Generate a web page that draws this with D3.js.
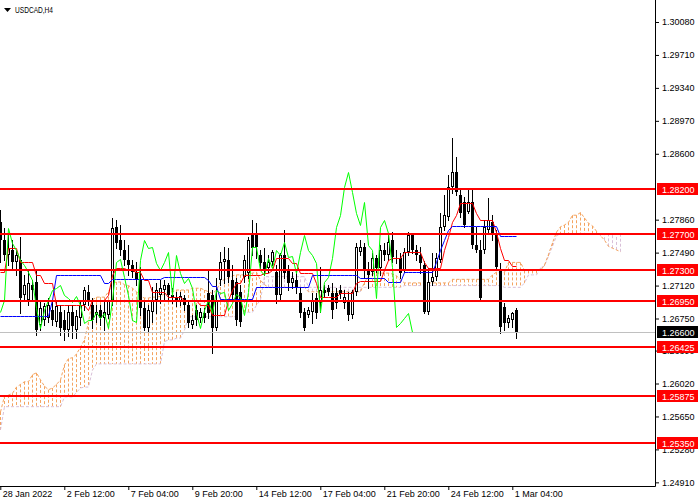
<!DOCTYPE html>
<html>
<head>
<meta charset="utf-8">
<script src="https://cdn.jsdelivr.net/npm/d3@7"></script>
<style>
	body { margin: 0; background: #ffffff; }
	svg { display: block; font-family: "Liberation Sans", Arial, sans-serif; }
</style>
</head>
<body>
<svg id="chartsvg" width="700" height="500"></svg>
<script>
//DATA (USDCAD H4, one value per bar, bar 0 = 28 Jan 2022 20:00)
var opens = [
	1.2783, 1.2763, 1.2746, 1.2752, 1.2738, 1.2741, 1.2701, 1.2696, 1.2713, 1.2716,
	1.2668, 1.2673, 1.2676, 1.2685, 1.2671, 1.2682, 1.2673, 1.2662, 1.2682, 1.2662,
	1.2676, 1.2690, 1.2705, 1.2690, 1.2679, 1.2685, 1.2676, 1.2679, 1.2696, 1.2778,
	1.2763, 1.2752, 1.2741, 1.2735, 1.2727, 1.2718, 1.2687, 1.2664, 1.2682, 1.2696,
	1.2701, 1.2707, 1.2713, 1.2701, 1.2698, 1.2694, 1.2698, 1.2690, 1.2668, 1.2685,
	1.2676, 1.2681, 1.2704, 1.2701, 1.2664, 1.2718, 1.2738, 1.2741, 1.2718, 1.2716,
	1.2705, 1.2722, 1.2726, 1.2769, 1.2771, 1.2746, 1.2738, 1.2732, 1.2738, 1.2727,
	1.2701, 1.2746, 1.2729, 1.2715, 1.2718, 1.2704, 1.2682, 1.2679, 1.2682, 1.2698,
	1.2692, 1.2707, 1.2709, 1.2704, 1.2704, 1.2707, 1.2692, 1.2696, 1.2679, 1.2705,
	1.2750, 1.2755, 1.2729, 1.2727, 1.2743, 1.2732, 1.2752, 1.2746, 1.2763, 1.2744,
	1.2743, 1.2729, 1.2750, 1.2769, 1.2752, 1.2746, 1.2735, 1.2682, 1.2716, 1.2722,
	1.2741, 1.2778, 1.2789, 1.2823, 1.2840, 1.2814, 1.2806, 1.2795, 1.2806, 1.2758,
	1.2752, 1.2752, 1.2774, 1.2783, 1.2771, 1.2729, 1.2688, 1.2670, 1.2673, 1.2685
];
var highs = [
	1.2797, 1.2777, 1.2769, 1.2763, 1.2752, 1.2767, 1.2724, 1.2729, 1.2718, 1.2729,
	1.2696, 1.2692, 1.2698, 1.2694, 1.2696, 1.2690, 1.2685, 1.2690, 1.2690, 1.2685,
	1.2696, 1.2710, 1.2713, 1.2698, 1.2690, 1.2690, 1.2696, 1.2696, 1.2788, 1.2786,
	1.2780, 1.2763, 1.2758, 1.2741, 1.2738, 1.2733, 1.2696, 1.2690, 1.2710, 1.2715,
	1.2718, 1.2718, 1.2715, 1.2709, 1.2705, 1.2705, 1.2701, 1.2696, 1.2679, 1.2690,
	1.2687, 1.2687, 1.2729, 1.2707, 1.2720, 1.2750, 1.2755, 1.2754, 1.2735, 1.2720,
	1.2713, 1.2746, 1.2767, 1.2786, 1.2782, 1.2752, 1.2754, 1.2746, 1.2752, 1.2735,
	1.2749, 1.2774, 1.2735, 1.2727, 1.2729, 1.2710, 1.2687, 1.2688, 1.2704, 1.2704,
	1.2733, 1.2713, 1.2713, 1.2715, 1.2709, 1.2713, 1.2707, 1.2705, 1.2707, 1.2760,
	1.2763, 1.2760, 1.2738, 1.2749, 1.2746, 1.2758, 1.2760, 1.2769, 1.2772, 1.2752,
	1.2749, 1.2754, 1.2772, 1.2771, 1.2758, 1.2755, 1.2740, 1.2732, 1.2749, 1.2749,
	1.2794, 1.2814, 1.2836, 1.2878, 1.2856, 1.2822, 1.2811, 1.2819, 1.2819, 1.2778,
	1.2763, 1.2786, 1.2810, 1.2791, 1.2774, 1.2737, 1.2692, 1.2679, 1.2682, 1.2687
];
var lows = [
	1.2738, 1.2741, 1.2735, 1.2729, 1.2724, 1.2681, 1.2696, 1.2690, 1.2696, 1.2657,
	1.2662, 1.2668, 1.2671, 1.2668, 1.2667, 1.2657, 1.2651, 1.2655, 1.2653, 1.2653,
	1.2668, 1.2685, 1.2690, 1.2664, 1.2671, 1.2668, 1.2662, 1.2676, 1.2690, 1.2754,
	1.2746, 1.2735, 1.2724, 1.2722, 1.2713, 1.2679, 1.2662, 1.2660, 1.2671, 1.2681,
	1.2692, 1.2696, 1.2696, 1.2692, 1.2689, 1.2690, 1.2685, 1.2666, 1.2664, 1.2668,
	1.2671, 1.2671, 1.2676, 1.2636, 1.2662, 1.2713, 1.2715, 1.2716, 1.2696, 1.2668,
	1.2667, 1.2716, 1.2720, 1.2746, 1.2743, 1.2732, 1.2724, 1.2727, 1.2735, 1.2692,
	1.2696, 1.2720, 1.2707, 1.2709, 1.2704, 1.2677, 1.2662, 1.2677, 1.2670, 1.2676,
	1.2682, 1.2699, 1.2701, 1.2676, 1.2687, 1.2698, 1.2687, 1.2673, 1.2676, 1.2701,
	1.2746, 1.2720, 1.2709, 1.2724, 1.2727, 1.2724, 1.2741, 1.2741, 1.2738, 1.2737,
	1.2720, 1.2727, 1.2746, 1.2749, 1.2741, 1.2726, 1.2681, 1.2680, 1.2713, 1.2718,
	1.2738, 1.2774, 1.2786, 1.2816, 1.2814, 1.2789, 1.2778, 1.2794, 1.2754, 1.2750,
	1.2696, 1.2749, 1.2772, 1.2763, 1.2729, 1.2659, 1.2662, 1.2666, 1.2666, 1.2653
];
var closes = [
	1.2763, 1.2746, 1.2754, 1.2738, 1.2746, 1.2698, 1.2713, 1.2715, 1.2707, 1.2662,
	1.2687, 1.2689, 1.2690, 1.2673, 1.2689, 1.2664, 1.2662, 1.2682, 1.2667, 1.2678,
	1.2690, 1.2707, 1.2696, 1.2673, 1.2682, 1.2676, 1.2682, 1.2696, 1.2777, 1.2760,
	1.2752, 1.2741, 1.2735, 1.2727, 1.2718, 1.2687, 1.2664, 1.2685, 1.2696, 1.2707,
	1.2709, 1.2713, 1.2701, 1.2698, 1.2694, 1.2700, 1.2690, 1.2670, 1.2673, 1.2673,
	1.2682, 1.2676, 1.2681, 1.2664, 1.2696, 1.2738, 1.2742, 1.2722, 1.2701, 1.2673,
	1.2671, 1.2741, 1.2763, 1.2754, 1.2755, 1.2737, 1.2729, 1.2738, 1.2750, 1.2701,
	1.2746, 1.2726, 1.2715, 1.2720, 1.2709, 1.2681, 1.2664, 1.2685, 1.2696, 1.2681,
	1.2707, 1.2704, 1.2705, 1.2685, 1.2692, 1.2703, 1.2699, 1.2679, 1.2705, 1.2755,
	1.2755, 1.2729, 1.2724, 1.2743, 1.2732, 1.2752, 1.2746, 1.2761, 1.2744, 1.2745,
	1.2726, 1.2750, 1.2769, 1.2752, 1.2746, 1.2737, 1.2682, 1.2716, 1.2722, 1.2743,
	1.2778, 1.2791, 1.2823, 1.2840, 1.2817, 1.2794, 1.2780, 1.2806, 1.2758, 1.2752,
	1.2698, 1.2778, 1.2786, 1.2771, 1.2733, 1.2666, 1.2670, 1.2676, 1.2681, 1.2660
];
//ICHIMOKU LINES
var tenkan = [
	1.2727, 1.2727, 1.2754, 1.2754, 1.2754, 1.2738, 1.2738, 1.2738, 1.2738, 1.2724,
	1.2724, 1.2715, 1.2715, 1.2715, 1.2690, 1.2690, 1.2690, 1.2690, 1.2690, 1.2690,
	1.2690, 1.2690, 1.2685, 1.2696, 1.2696, 1.2696, 1.2696, 1.2701, 1.2724, 1.2732,
	1.2732, 1.2732, 1.2729, 1.2729, 1.2727, 1.2727, 1.2718, 1.2718, 1.2705, 1.2705,
	1.2705, 1.2705, 1.2699, 1.2699, 1.2699, 1.2699, 1.2696, 1.2696, 1.2696, 1.2696,
	1.2690, 1.2690, 1.2690, 1.2679, 1.2679, 1.2679, 1.2679, 1.2696, 1.2707, 1.2715,
	1.2715, 1.2724, 1.2724, 1.2724, 1.2724, 1.2724, 1.2726, 1.2726, 1.2729, 1.2743,
	1.2743, 1.2743, 1.2743, 1.2737, 1.2737, 1.2726, 1.2726, 1.2726, 1.2726, 1.2715,
	1.2699, 1.2699, 1.2699, 1.2699, 1.2699, 1.2704, 1.2704, 1.2704, 1.2704, 1.2715,
	1.2717, 1.2717, 1.2717, 1.2717, 1.2717, 1.2717, 1.2729, 1.2741, 1.2743, 1.2743,
	1.2743, 1.2750, 1.2750, 1.2750, 1.2750, 1.2750, 1.2738, 1.2732, 1.2732, 1.2732,
	1.2732, 1.2752, 1.2767, 1.2783, 1.2791, 1.2805, 1.2805, 1.2805, 1.2805, 1.2794,
	1.2786, 1.2786, 1.2786, 1.2786, 1.2772, 1.2754, 1.2741, 1.2741, 1.2734, 1.2734
];
var kijun = [
	1.2678, 1.2678, 1.2678, 1.2678, 1.2678, 1.2678, 1.2678, 1.2678, 1.2678, 1.2678,
	1.2678, 1.2678, 1.2678, 1.2696, 1.2724, 1.2724, 1.2724, 1.2724, 1.2724, 1.2724,
	1.2724, 1.2724, 1.2724, 1.2724, 1.2724, 1.2724, 1.2715, 1.2715, 1.2719, 1.2719,
	1.2719, 1.2719, 1.2719, 1.2719, 1.2719, 1.2719, 1.2719, 1.2719, 1.2719, 1.2719,
	1.2719, 1.2722, 1.2722, 1.2722, 1.2722, 1.2722, 1.2722, 1.2722, 1.2722, 1.2722,
	1.2722, 1.2722, 1.2718, 1.2712, 1.2712, 1.2697, 1.2697, 1.2697, 1.2697, 1.2697,
	1.2697, 1.2697, 1.2697, 1.2697, 1.2710, 1.2710, 1.2710, 1.2710, 1.2710, 1.2710,
	1.2710, 1.2710, 1.2710, 1.2710, 1.2710, 1.2710, 1.2710, 1.2710, 1.2724, 1.2724,
	1.2724, 1.2724, 1.2724, 1.2724, 1.2724, 1.2724, 1.2724, 1.2724, 1.2724, 1.2724,
	1.2720, 1.2720, 1.2720, 1.2720, 1.2720, 1.2720, 1.2720, 1.2716, 1.2716, 1.2716,
	1.2716, 1.2727, 1.2727, 1.2727, 1.2727, 1.2727, 1.2727, 1.2727, 1.2727, 1.2738,
	1.2752, 1.2763, 1.2774, 1.2779, 1.2779, 1.2779, 1.2779, 1.2779, 1.2779, 1.2779,
	1.2779, 1.2779, 1.2779, 1.2779, 1.2779, 1.2768, 1.2768, 1.2768, 1.2768, 1.2768
];
//SENKOU SPANS, ALREADY SHIFTED 26 BARS FORWARD (156 BARS)
var spanA = [
	1.2570, 1.2588, 1.2589, 1.2591, 1.2598, 1.2601, 1.2604, 1.2604, 1.2612, 1.2614,
	1.2606, 1.2599, 1.2595, 1.2597, 1.2601, 1.2606, 1.2623, 1.2630, 1.2631, 1.2635,
	1.2643, 1.2651, 1.2671, 1.2696, 1.2699, 1.2699, 1.2699, 1.2705, 1.2715, 1.2716,
	1.2716, 1.2713, 1.2712, 1.2709, 1.2705, 1.2700, 1.2698, 1.2698, 1.2699, 1.2699,
	1.2700, 1.2703, 1.2705, 1.2705, 1.2707, 1.2707, 1.2707, 1.2707, 1.2709, 1.2709,
	1.2709, 1.2707, 1.2705, 1.2703, 1.2707, 1.2716, 1.2719, 1.2720, 1.2723, 1.2724,
	1.2724, 1.2724, 1.2725, 1.2726, 1.2727, 1.2718, 1.2713, 1.2710, 1.2710, 1.2710,
	1.2710, 1.2710, 1.2710, 1.2710, 1.2710, 1.2710, 1.2710, 1.2705, 1.2705, 1.2705,
	1.2705, 1.2705, 1.2705, 1.2705, 1.2705, 1.2705, 1.2705, 1.2705, 1.2705, 1.2705,
	1.2705, 1.2716, 1.2722, 1.2725, 1.2726, 1.2726, 1.2726, 1.2726, 1.2725, 1.2723,
	1.2718, 1.2715, 1.2715, 1.2715, 1.2715, 1.2715, 1.2715, 1.2715, 1.2715, 1.2715,
	1.2715, 1.2715, 1.2715, 1.2719, 1.2719, 1.2719, 1.2719, 1.2719, 1.2719, 1.2719,
	1.2719, 1.2719, 1.2719, 1.2724, 1.2727, 1.2727, 1.2727, 1.2738, 1.2738, 1.2738,
	1.2738, 1.2729, 1.2729, 1.2729, 1.2729, 1.2729, 1.2735, 1.2747, 1.2760, 1.2772,
	1.2778, 1.2780, 1.2783, 1.2791, 1.2791, 1.2794, 1.2788, 1.2782, 1.2779, 1.2773,
	1.2768, 1.2763, 1.2756, 1.2754, 1.2752, 1.2750
];
var spanB = [
	1.2550, 1.2576, 1.2576, 1.2576, 1.2576, 1.2576, 1.2576, 1.2576, 1.2576, 1.2576,
	1.2576, 1.2576, 1.2576, 1.2576, 1.2576, 1.2576, 1.2587, 1.2587, 1.2587, 1.2592,
	1.2597, 1.2598, 1.2598, 1.2617, 1.2624, 1.2624, 1.2624, 1.2624, 1.2624, 1.2624,
	1.2624, 1.2624, 1.2624, 1.2624, 1.2624, 1.2624, 1.2624, 1.2624, 1.2624, 1.2624,
	1.2624, 1.2649, 1.2651, 1.2651, 1.2653, 1.2653, 1.2662, 1.2677, 1.2677, 1.2677,
	1.2677, 1.2677, 1.2677, 1.2677, 1.2677, 1.2677, 1.2677, 1.2677, 1.2677, 1.2677,
	1.2677, 1.2682, 1.2682, 1.2682, 1.2690, 1.2696, 1.2722, 1.2722, 1.2722, 1.2722,
	1.2722, 1.2722, 1.2722, 1.2722, 1.2722, 1.2722, 1.2722, 1.2710, 1.2710, 1.2710,
	1.2710, 1.2710, 1.2710, 1.2710, 1.2710, 1.2710, 1.2710, 1.2710, 1.2710, 1.2710,
	1.2710, 1.2710, 1.2710, 1.2710, 1.2710, 1.2710, 1.2710, 1.2710, 1.2710, 1.2710,
	1.2710, 1.2712, 1.2712, 1.2712, 1.2712, 1.2712, 1.2712, 1.2712, 1.2712, 1.2712,
	1.2712, 1.2712, 1.2712, 1.2712, 1.2712, 1.2712, 1.2712, 1.2712, 1.2712, 1.2712,
	1.2712, 1.2712, 1.2712, 1.2712, 1.2712, 1.2712, 1.2710, 1.2710, 1.2710, 1.2710,
	1.2710, 1.2715, 1.2724, 1.2724, 1.2724, 1.2732, 1.2734, 1.2745, 1.2756, 1.2768,
	1.2770, 1.2770, 1.2770, 1.2770, 1.2770, 1.2770, 1.2770, 1.2770, 1.2770, 1.2770,
	1.2770, 1.2770, 1.2770, 1.2770, 1.2770, 1.2770
];
var levels = [1.28200, 1.27700, 1.27300, 1.26950, 1.26425, 1.25875, 1.25350];
var lastPrice = 1.26600;
var priceTicks = [1.30080, 1.29710, 1.29340, 1.28970, 1.28600, 1.27860, 1.27490,
	1.27120, 1.26750, 1.26390, 1.26020, 1.25650, 1.25280, 1.24910];
var timeLabels = ["28 Jan 2022", "2 Feb 12:00", "7 Feb 04:00", "9 Feb 20:00", "14 Feb 12:00",
	"17 Feb 04:00", "21 Feb 20:00", "24 Feb 12:00", "1 Mar 04:00"];
var timeBars = [0, 16, 32, 48, 64, 80, 96, 112, 128];
var chartTitle = "USDCAD,H4";
var chikouShift = 26;

(function () {
	//VARIABLE DECLARATION
	var svg, plot, x, y, plotW, plotH, bars;
	//VARIABLE INSTANTIATION
	plotW = 655;
	plotH = 486;
	svg = d3.select("#chartsvg");
	x = d3.scaleLinear().domain([0, 163]).range([0.3, 652.3]);
	y = d3.scaleLinear().domain([1.24869, 1.30327]).range([plotH, 0]);
	bars = d3.range(opens.length);

	svg.append("rect").attr("width", 700).attr("height", 500).attr("fill", "#ffffff");
	svg.append("clipPath").attr("id", "plotclip")
		.append("rect").attr("width", plotW).attr("height", plotH);
	plot = svg.append("g").attr("clip-path", "url(#plotclip)");

	drawCloud();
	drawCandles();
	drawLines();
	drawLevels();
	drawAxes();
	drawTitle();

	function px(i) { return Math.round(x(i)) + 0.5 }

	function drawCloud() {
		plot.append("g").selectAll("line")
			.data(spanA).enter().append("line")
			.attr("x1", function (d, i) { return px(i) })
			.attr("x2", function (d, i) { return px(i) })
			.attr("y1", function (d) { return y(d) })
			.attr("y2", function (d, i) { return y(spanB[i]) })
			.attr("stroke", function (d, i) { return d >= spanB[i] ? "#f4a460" : "#d8bfd8" })
			.attr("stroke-dasharray", "3,2");

		[[spanB, "#d8bfd8"], [spanA, "#f4a460"]].forEach(function (s) {
			plot.append("path")
				.datum(s[0])
				.attr("fill", "none")
				.attr("stroke", s[1])
				.attr("stroke-dasharray", "3,2")
				.attr("d", d3.line().x(function (d, i) { return px(i) }).y(function (d) { return y(d) }));
		});
	}
	function drawCandles() {
		var g = plot.append("g").attr("shape-rendering", "crispEdges");
		g.selectAll("line")
			.data(bars).enter().append("line")
			.attr("x1", px).attr("x2", px)
			.attr("y1", function (i) { return Math.round(y(highs[i])) })
			.attr("y2", function (i) { return Math.round(y(lows[i])) + 1 })
			.attr("stroke", "#000");

		g.selectAll("rect.bear")
			.data(bars.filter(function (i) { return closes[i] < opens[i] })).enter().append("rect")
			.attr("class", "bear")
			.attr("x", function (i) { return px(i) - 1.5 })
			.attr("width", 3)
			.attr("y", function (i) { return Math.round(y(opens[i])) })
			.attr("height", function (i) { return Math.max(1, Math.round(y(closes[i])) - Math.round(y(opens[i]))) })
			.attr("fill", "#000");

		g.selectAll("rect.bull")
			.data(bars.filter(function (i) { return closes[i] >= opens[i] })).enter().append("rect")
			.attr("class", "bull")
			.attr("x", function (i) { return px(i) - 1 })
			.attr("width", 2)
			.attr("y", function (i) { return Math.round(y(closes[i])) + 0.5 })
			.attr("height", function (i) { return Math.max(0, Math.round(y(opens[i])) - Math.round(y(closes[i])) - 1) })
			.attr("fill", "#fff")
			.attr("stroke", "#000");
	}
	function drawLines() {
		var chikou = closes.slice(chikouShift);
		[[tenkan, "#ff0000"], [kijun, "#0000ff"], [chikou, "#00ff00"]].forEach(function (s) {
			plot.append("path")
				.datum(s[0])
				.attr("fill", "none")
				.attr("stroke", s[1])
				.attr("stroke-width", 1)
				.attr("d", d3.line().x(function (d, i) { return px(i) }).y(function (d) { return Math.round(y(d)) + 0.5 }));
		});
	}
	function drawLevels() {
		plot.append("line")
			.attr("x1", 0).attr("x2", plotW)
			.attr("y1", Math.round(y(lastPrice)) + 0.5).attr("y2", Math.round(y(lastPrice)) + 0.5)
			.attr("stroke", "#c0c0c0");

		plot.selectAll("line.level")
			.data(levels).enter().append("line")
			.attr("class", "level")
			.attr("x1", 0).attr("x2", plotW)
			.attr("y1", function (d) { return Math.round(y(d)) })
			.attr("y2", function (d) { return Math.round(y(d)) })
			.attr("stroke", "#ff0000")
			.attr("stroke-width", 2);
	}
	function drawAxes() {
		var right = svg.append("g")
			.attr("transform", "translate(" + plotW + ",0)")
			.call(d3.axisRight(y).tickValues(priceTicks).tickFormat(d3.format(".5f")).tickSize(4).tickSizeOuter(0));
		right.select(".domain").remove();
		right.selectAll("text").attr("font-size", 9).attr("fill", "#000").attr("x", 7);
		right.selectAll("line").attr("stroke", "#000");

		var bottom = svg.append("g")
			.attr("transform", "translate(0," + plotH + ")")
			.call(d3.axisBottom(x).tickValues(timeBars).tickFormat(function (d, i) { return timeLabels[i] }).tickSize(4).tickSizeOuter(0));
		bottom.select(".domain").remove();
		bottom.selectAll("text").attr("font-size", 9).attr("fill", "#000")
			.attr("text-anchor", "start").attr("x", 2).attr("y", 5).attr("dy", "0.71em");
		bottom.selectAll("line").attr("stroke", "#000");

		svg.append("path")
			.attr("d", "M" + (plotW + 0.5) + ",0V" + (plotH + 0.5) + "H0")
			.attr("fill", "none").attr("stroke", "#000");

		//PRICE TAGS ON THE AXIS
		var tags = levels.map(function (d) { return { v: d, bg: "#ff0000" } })
			.concat([{ v: lastPrice, bg: "#000000" }]);
		var tag = svg.selectAll("g.tag")
			.data(tags).enter().append("g")
			.attr("class", "tag")
			.attr("transform", function (d) { return "translate(" + (plotW + 2) + "," + Math.round(y(d.v)) + ")" });
		tag.append("rect")
			.attr("x", 0).attr("y", -6).attr("width", 41).attr("height", 12)
			.attr("fill", function (d) { return d.bg });
		tag.append("text")
			.attr("x", 5).attr("y", 3.5)
			.attr("font-size", 9).attr("fill", "#fff")
			.text(function (d) { return d3.format(".5f")(d.v) });
	}
	function drawTitle() {
		svg.append("path").attr("d", "M4,8H11L7.5,12Z").attr("fill", "#000");
		svg.append("text")
			.attr("x", 15).attr("y", 13)
			.attr("font-size", 9.5).attr("fill", "#000")
			.attr("textLength", 38).attr("lengthAdjust", "spacingAndGlyphs")
			.text(chartTitle);
	}
})();
</script>
</body>
</html>
